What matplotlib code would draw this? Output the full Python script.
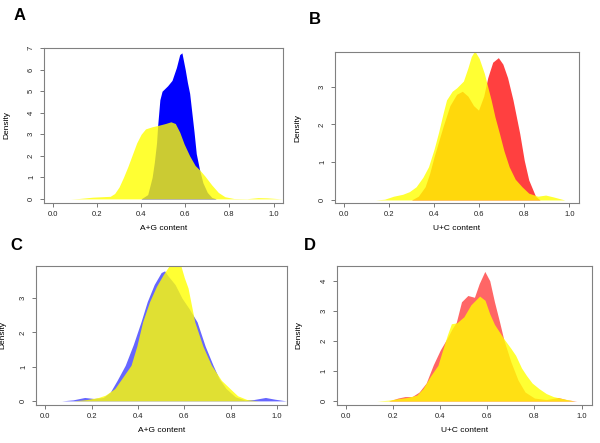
import matplotlib
matplotlib.use("Agg")
import matplotlib.pyplot as plt

plt.rcParams['font.family'] = ['Liberation Sans', 'DejaVu Sans']

# panel A: A+G content, blue vs yellow
a_blue_x = [0.40, 0.43, 0.45, 0.46, 0.47, 0.475, 0.485, 0.495, 0.52, 0.54, 0.56, 0.575, 0.585,
            0.60, 0.61, 0.62, 0.63, 0.64, 0.65, 0.665, 0.68, 0.70, 0.72, 0.74]
a_blue_y = [0.0, 0.2, 1.0, 1.7, 2.6, 3.4, 4.6, 5.0, 5.25, 5.5, 6.1, 6.7, 6.78,
            6.0, 5.4, 4.9, 4.0, 3.1, 2.1, 1.35, 0.75, 0.3, 0.07, 0.0]
a_yel_x = [0.08, 0.12, 0.18, 0.22, 0.26, 0.28, 0.30, 0.32, 0.34, 0.36, 0.38, 0.40, 0.42, 0.45,
           0.48, 0.51, 0.535, 0.555, 0.575, 0.595, 0.62, 0.645, 0.665, 0.69, 0.72, 0.75, 0.78,
           0.82, 0.88, 0.93, 0.97, 1.04]
a_yel_y = [0.0, 0.02, 0.08, 0.1, 0.12, 0.25, 0.55, 1.0, 1.5, 2.05, 2.6, 3.0, 3.25, 3.35,
           3.42, 3.5, 3.58, 3.5, 3.1, 2.55, 2.0, 1.55, 1.35, 1.05, 0.65, 0.3, 0.1,
           0.02, 0.01, 0.06, 0.05, 0.0]

# panel B: U+C content, red vs yellow
b_red_x = [0.30, 0.33, 0.36, 0.38, 0.40, 0.42, 0.44, 0.47, 0.50, 0.525, 0.55, 0.575, 0.597,
           0.62, 0.638, 0.66, 0.685, 0.705, 0.726, 0.75, 0.78, 0.80, 0.82, 0.85, 0.87]
b_red_y = [0.0, 0.1, 0.35, 0.7, 1.15, 1.55, 1.95, 2.5, 2.8, 2.88, 2.75, 2.5, 2.38,
           2.75, 3.24, 3.65, 3.77, 3.6, 3.24, 2.65, 1.76, 1.05, 0.53, 0.1, 0.0]
b_yel_x = [0.14, 0.18, 0.22, 0.26, 0.29, 0.32, 0.35, 0.375, 0.40, 0.42, 0.44, 0.455, 0.48, 0.50,
           0.53, 0.55, 0.565, 0.58, 0.60, 0.623, 0.64, 0.653, 0.67, 0.69, 0.71, 0.733, 0.76,
           0.79, 0.82, 0.86, 0.895, 0.93, 0.98]
b_yel_y = [0.0, 0.02, 0.1, 0.15, 0.22, 0.35, 0.6, 0.88, 1.35, 1.8, 2.3, 2.65, 2.88, 2.97,
           3.15, 3.5, 3.8, 3.95, 3.75, 3.35, 2.95, 2.65, 2.2, 1.76, 1.3, 0.88, 0.55,
           0.35, 0.18, 0.1, 0.13, 0.08, 0.0]

# panel C: A+G content
c_blue_x = [0.07, 0.12, 0.17, 0.21, 0.25, 0.28, 0.31, 0.345, 0.38, 0.413, 0.44, 0.47, 0.50,
            0.515, 0.53, 0.56, 0.59, 0.62, 0.655, 0.69, 0.724, 0.75, 0.78, 0.82, 0.86, 0.90,
            0.95, 0.99, 1.04]
c_blue_y = [0.0, 0.03, 0.1, 0.07, 0.1, 0.25, 0.6, 1.04, 1.65, 2.31, 2.9, 3.4, 3.75,
            3.8, 3.65, 3.4, 3.0, 2.7, 2.31, 1.6, 1.04, 0.65, 0.36, 0.12, 0.03, 0.04,
            0.1, 0.05, 0.0]
c_yel_x = [0.12, 0.18, 0.23, 0.26, 0.30, 0.33, 0.37, 0.395, 0.42, 0.45, 0.48, 0.51, 0.535,
           0.56, 0.585, 0.60, 0.616, 0.645, 0.68, 0.717, 0.76, 0.797, 0.83, 0.87, 0.92]
c_yel_y = [0.0, 0.04, 0.1, 0.17, 0.36, 0.65, 1.04, 1.6, 2.31, 2.9, 3.35, 3.7, 3.95,
           4.1, 3.95, 3.6, 3.3, 2.31, 1.6, 1.04, 0.6, 0.36, 0.15, 0.04, 0.0]

# panel D: U+C content
d_red_x = [0.18, 0.22, 0.25, 0.28, 0.31, 0.34, 0.37, 0.40, 0.43, 0.45, 0.468, 0.49, 0.517,
           0.545, 0.565, 0.589, 0.61, 0.63, 0.652, 0.67, 0.70, 0.73, 0.76, 0.80, 0.85, 0.90,
           0.94, 0.98]
d_red_y = [0.0, 0.1, 0.15, 0.15, 0.3, 0.6, 1.2, 1.7, 2.1, 2.4, 2.62, 3.3, 3.51,
           3.45, 3.9, 4.31, 4.0, 3.3, 2.62, 2.03, 1.3, 0.7, 0.3, 0.1, 0.05, 0.12,
           0.04, 0.0]
d_yel_x = [0.13, 0.18, 0.22, 0.26, 0.30, 0.326, 0.36, 0.39, 0.41, 0.43, 0.447, 0.47, 0.50,
           0.53, 0.567, 0.59, 0.61, 0.63, 0.67, 0.70, 0.72, 0.745, 0.766, 0.79, 0.82, 0.85,
           0.88, 0.92, 0.97]
d_yel_y = [0.0, 0.03, 0.08, 0.12, 0.2, 0.41, 0.85, 1.19, 1.7, 2.2, 2.57, 2.6, 2.8,
           3.2, 3.49, 3.35, 2.9, 2.55, 2.07, 1.75, 1.52, 1.1, 0.85, 0.6, 0.41, 0.25,
           0.15, 0.08, 0.0]

xticks = [0.0, 0.2, 0.4, 0.6, 0.8, 1.0]

W, H = 600, 443
fig = plt.figure(figsize=(6.0, 4.43), dpi=100)


def make_ax(x0, y0, x1, y1):
    # pixel box -> figure fraction
    return fig.add_axes([x0 / W, 1 - y1 / H, (x1 - x0) / W, (y1 - y0) / H])


def style(ax, ylim, yticks, xlabel, ylab_off=34):
    ax.set_xlim(-0.04, 1.043)
    ax.set_ylim(*ylim)
    ax.set_xticks(xticks)
    ax.set_xticklabels(["%.1f" % t for t in xticks])
    ax.set_yticks(yticks)
    ax.set_yticklabels([str(t) for t in yticks], rotation=90, va='center')
    for s in ax.spines.values():
        s.set_color('#808080')
        s.set_linewidth(0.8)
    ax.tick_params(axis='both', labelsize=5.5, length=3, width=0.6, color='#606060',
                   labelcolor='#222222')
    ax.tick_params(axis='x', pad=2.5)
    ax.tick_params(axis='y', pad=3.5)
    ax.set_xlabel(xlabel, fontsize=6, labelpad=5)
    ax.set_ylabel("Density", fontsize=6)
    w_px = ax.get_position().width * W
    ax.yaxis.set_label_coords(-ylab_off / w_px, 0.5)


axA = make_ax(44, 47.7, 283, 203)
axA.fill_between(a_blue_x, a_blue_y, 0, color='#0000ff', linewidth=0)
axA.fill_between(a_yel_x, a_yel_y, 0, color='#ffff00', alpha=0.8, linewidth=0)
style(axA, (-0.19, 7.02), [0, 1, 2, 3, 4, 5, 6, 7], "A+G content")

axB = make_ax(335, 52, 579, 203)
axB.fill_between(b_red_x, b_red_y, 0, color='#ff0000', alpha=0.75, linewidth=0)
axB.fill_between(b_yel_x, b_yel_y, 0, color='#ffff00', alpha=0.8, linewidth=0)
style(axB, (-0.08, 3.92), [0, 1, 2, 3], "U+C content")

axC = make_ax(36, 265.7, 287, 405)
axC.fill_between(c_blue_x, c_blue_y, 0, color='#0000ff', alpha=0.6, linewidth=0)
axC.fill_between(c_yel_x, c_yel_y, 0, color='#ffff00', alpha=0.8, linewidth=0)
style(axC, (-0.12, 3.95), [0, 1, 2, 3], "A+G content", ylab_off=30)

axD = make_ax(336.7, 265.7, 591.7, 405)
axD.fill_between(d_red_x, d_red_y, 0, color='#ff0000', alpha=0.6, linewidth=0)
axD.fill_between(d_yel_x, d_yel_y, 0, color='#ffff00', alpha=0.8, linewidth=0)
style(axD, (-0.13, 4.5), [0, 1, 2, 3, 4], "U+C content")

for lab, px, py in [("A", 20, 15), ("B", 315, 19), ("C", 16, 246), ("D", 310, 246)]:
    fig.text(px / W, 1 - py / H, lab, fontsize=12, fontweight='bold', ha='center', va='center')

fig.savefig("out.png", dpi=100)
